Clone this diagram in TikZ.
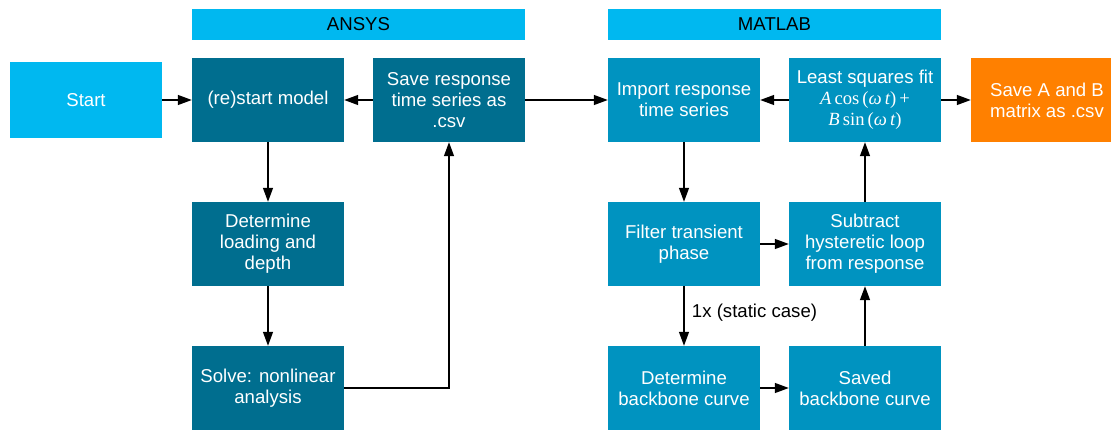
\documentclass[tikz,border=0pt]{standalone}
\usepackage[no-math]{fontspec}
\setmainfont{Liberation Sans}
\newfontfamily\serifmath{Liberation Serif}
\newcommand{\mi}[1]{{\serifmath\itshape #1}}
\newcommand{\mr}[1]{{\serifmath #1}}
\usetikzlibrary{arrows.meta}
\definecolor{ansysc}{RGB}{0,110,143}
\definecolor{matlabc}{RGB}{0,147,192}
\definecolor{lightc}{RGB}{0,184,240}
\definecolor{orangec}{RGB}{255,128,0}
\begin{document}
\begin{tikzpicture}[x=1pt,y=-1pt,
  txt/.style={font=\fontsize{18.6}{21}\selectfont},
  box/.style={txt,minimum width=152pt,minimum height=84pt,inner sep=0pt,align=center,text=white},
  abox/.style={box,fill=ansysc},
  mbox/.style={box,fill=matlabc},
  hdr/.style={txt,minimum height=31pt,inner sep=0pt,fill=lightc,text=black},
  conn/.style={line width=1.3pt,-{Triangle[length=14pt,width=10pt]}}
]
\clip (0,0) rectangle (1111,430);
% headers
\node[hdr,minimum width=333pt] (ansys) at (358.5,24.5) {ANSYS};
\node[hdr,minimum width=333pt] (matlab) at (774.5,24.5) {MATLAB};
% start
\node[box,fill=lightc,minimum height=76pt] (start) at (86,100) {Start};
% ANSYS column
\node[abox] (restart) at (268,100) {(re)start model};
\node[abox] (saveresp) at (449,100) {Save response\\time series as\\.csv};
\node[abox] (loading) at (268,244) {Determine\\loading and\\depth};
\node[abox] (solve) at (268,388) {Solve: nonlinear\\analysis};
% MATLAB column
\node[mbox] (import) at (684,100) {Import response\\time series};
\node[mbox] (lsq) at (865,100) {Least squares fit\\\mi{A}\,\mr{cos}\,\mr{(}\mi{ω\,t}\mr{)}\,\mr{+}\\\mi{B}\,\mr{sin}\,\mr{(}\mi{ω\,t}\mr{)}};
\node[box,fill=orangec] (saveab) at (1047,100) {Save A and B\\matrix as .csv};
\node[mbox] (filter) at (684,244) {Filter transient\\phase};
\node[mbox] (subtract) at (865,244) {Subtract\\hysteretic loop\\from response};
\node[mbox] (detbb) at (684,388) {Determine\\backbone curve};
\node[mbox] (savedbb) at (865,388) {Saved\\backbone curve};
% connectors
\draw[conn] (start) -- (restart);
\draw[conn] (saveresp) -- (restart);
\draw[conn] (saveresp) -- (import);
\draw[conn] (lsq) -- (import);
\draw[conn] (lsq) -- (saveab);
\draw[conn] (restart) -- (loading);
\draw[conn] (loading) -- (solve);
\draw[conn] (solve.east) -| (saveresp.south);
\draw[conn] (import) -- (filter);
\draw[conn] (filter) -- (subtract);
\draw[conn] (filter) -- node[txt,right=4pt,pos=0.45,text=black] (lbl) {1x (static case)} (detbb);
\draw[conn] (detbb) -- (savedbb);
\draw[conn] (savedbb) -- (subtract);
\draw[conn] (subtract) -- (lsq);
\end{tikzpicture}
\end{document}
